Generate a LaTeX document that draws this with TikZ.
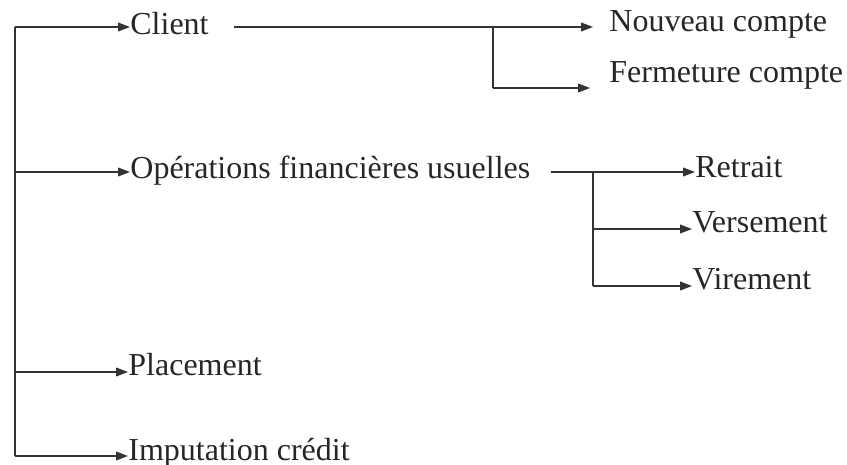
\documentclass[tikz,border=0pt]{standalone}
\usepackage{fontspec}
\setmainfont{Liberation Serif}
\usetikzlibrary{arrows.meta}
\begin{document}
\begin{tikzpicture}[x=0.5pt,y=-0.5pt,
  lbl/.style={anchor=base west,inner sep=0pt,text=black!85,font=\fontsize{16}{19}\selectfont},
  link/.style={draw=black!80,line width=0.65pt},
  arr/.style={link,-{Triangle[length=6pt,width=4.4pt]}}]
\useasboundingbox (0,0) rectangle (847,465);

% labels, placed by their baselines
\node[lbl] (client) at (130,35)  {Client};
\node[lbl] (nouv)   at (609,32)  {Nouveau compte};
\node[lbl] (ferm)   at (609,83)  {Fermeture compte};
\node[lbl] (ops)    at (130,178) {Opérations financières usuelles};
\node[lbl] (retr)   at (695,177) {Retrait};
\node[lbl] (vers)   at (692,233) {Versement};
\node[lbl] (vir)    at (692,290) {Virement};
\node[lbl] (plac)   at (128,375) {Placement};
\node[lbl] (imp)    at (128,460) {Imputation crédit};

% main trunk and its junctions
\coordinate (j1) at (15,27);
\coordinate (j2) at (15,172);
\coordinate (j3) at (15,372);
\coordinate (j4) at (15,456);
\draw[link] (j1) -- (j4);
\draw[arr] (j1) -- (j1 -| client.west);
\draw[arr] (j2) -- (j2 -| ops.west);
\draw[arr] (j3) -- (j3 -| plac.west);
\draw[arr] (j4) -- (j4 -| imp.west);

% Client branch
\coordinate (c0) at ([xshift=12.5pt]client.east |- j1);
\coordinate (cb) at (493,27);
\coordinate (cf) at (493,88);
\draw[arr] (c0) -- ([xshift=-8pt]nouv.west |- c0);
\draw[link] (cb) -- (cf);
\draw[arr] (cf) -- ([xshift=-9.5pt]ferm.west |- cf);

% operations branch
\coordinate (o0) at ([xshift=10pt]ops.east |- j2);
\coordinate (ob) at (593,172);
\coordinate (ov) at (593,229);
\coordinate (oi) at (593,286);
\draw[arr] (o0) -- (o0 -| retr.west);
\draw[link] (ob) -- (oi);
\draw[arr] (ov) -- (ov -| vers.west);
\draw[arr] (oi) -- (oi -| vir.west);
\end{tikzpicture}
\end{document}
